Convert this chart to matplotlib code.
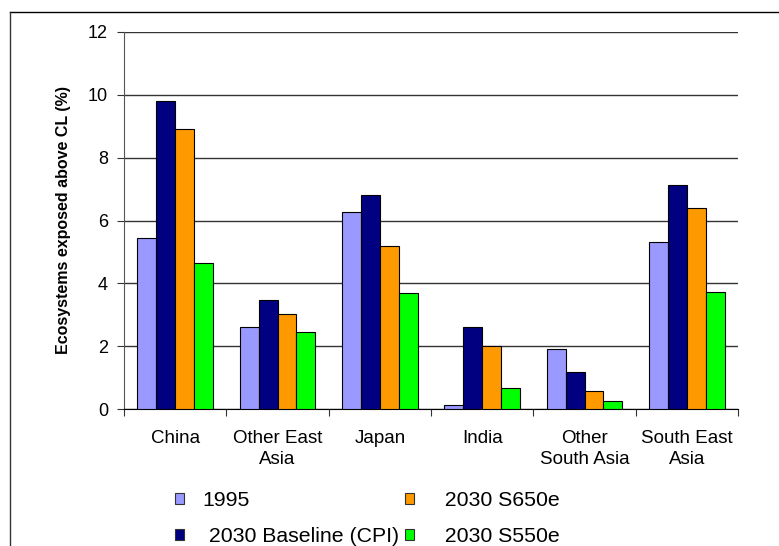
import matplotlib
matplotlib.use("Agg")
import matplotlib.pyplot as plt
from matplotlib.lines import Line2D
from matplotlib.patches import Patch
import numpy as np

plt.rcParams['font.family'] = ['Liberation Sans', 'DejaVu Sans']

# data
regions = ["China", "Other East\nAsia", "Japan", "India", "Other\nSouth Asia", "South East\nAsia"]
series = ["1995", "2030 Baseline (CPI)", "2030 S650e", "2030 S550e"]
v1995 = [5.43, 2.60, 6.27, 0.13, 1.90, 5.31]
vbase = [9.80, 3.48, 6.81, 2.60, 1.19, 7.13]
v650 = [8.92, 3.03, 5.18, 2.02, 0.58, 6.40]
v550 = [4.65, 2.44, 3.70, 0.66, 0.25, 3.72]
colors = ["#9999ff", "#000080", "#ff9900", "#00ff00"]

fig = plt.figure(figsize=(7.79, 5.46), dpi=100)
ax = fig.add_axes([124/779, 1 - 409/546, (738 - 124)/779, (409 - 32)/546])

x = np.arange(len(regions))
w = 0.185
for i, vals in enumerate([v1995, vbase, v650, v550]):
    ax.bar(x + (i - 1.5) * w, vals, w, color=colors[i], edgecolor="black",
           linewidth=0.8, zorder=3)

ax.set_xlim(-0.5, len(regions) - 0.5)
ax.set_ylim(0, 12)
ax.set_yticks(range(0, 13, 2))
ax.yaxis.grid(True, color="#333333", linewidth=1)
ax.set_axisbelow(True)

ax.set_xticks(np.arange(len(regions) + 1) - 0.5)
ax.set_xticklabels([])
ax.set_xticks(x, minor=True)
ax.set_xticklabels(regions, minor=True, fontsize=13.5, linespacing=1.3)
ax.tick_params(axis="x", which="minor", length=0, pad=15)
ax.tick_params(axis="x", which="major", length=5, direction="out", color="#333333")
ax.tick_params(axis="y", length=5, direction="out", labelsize=13, pad=6.5, color="#333333")

for s in ["top", "right"]:
    ax.spines[s].set_visible(False)
ax.spines["left"].set_color("#555555")
ax.spines["bottom"].set_color("black")

ax.set_ylabel("Ecosystems exposed above CL (%)", fontsize=11.5, fontweight="bold", labelpad=12)

handles = [Patch(facecolor=c, edgecolor="#333333", linewidth=0.8) for c in colors]
labels = ["1995", " 2030 Baseline (CPI)", "  2030 S650e", "  2030 S550e"]
fig.legend(handles, labels, ncol=2, loc="upper left", bbox_to_anchor=(164/779, 1 - 480/546),
           frameon=False, fontsize=15.3, handlelength=0.42, handleheight=0.42,
           handletextpad=0.9, columnspacing=0.3, labelspacing=0.82, borderpad=0)

# outer frame of the chart area
fig.add_artist(Line2D([10/779, 1], [1 - 12/546, 1 - 12/546], color="black", linewidth=1))
fig.add_artist(Line2D([10/779, 10/779], [0, 1 - 12/546], color="#333333", linewidth=1))

fig.savefig("out.png", dpi=100)
